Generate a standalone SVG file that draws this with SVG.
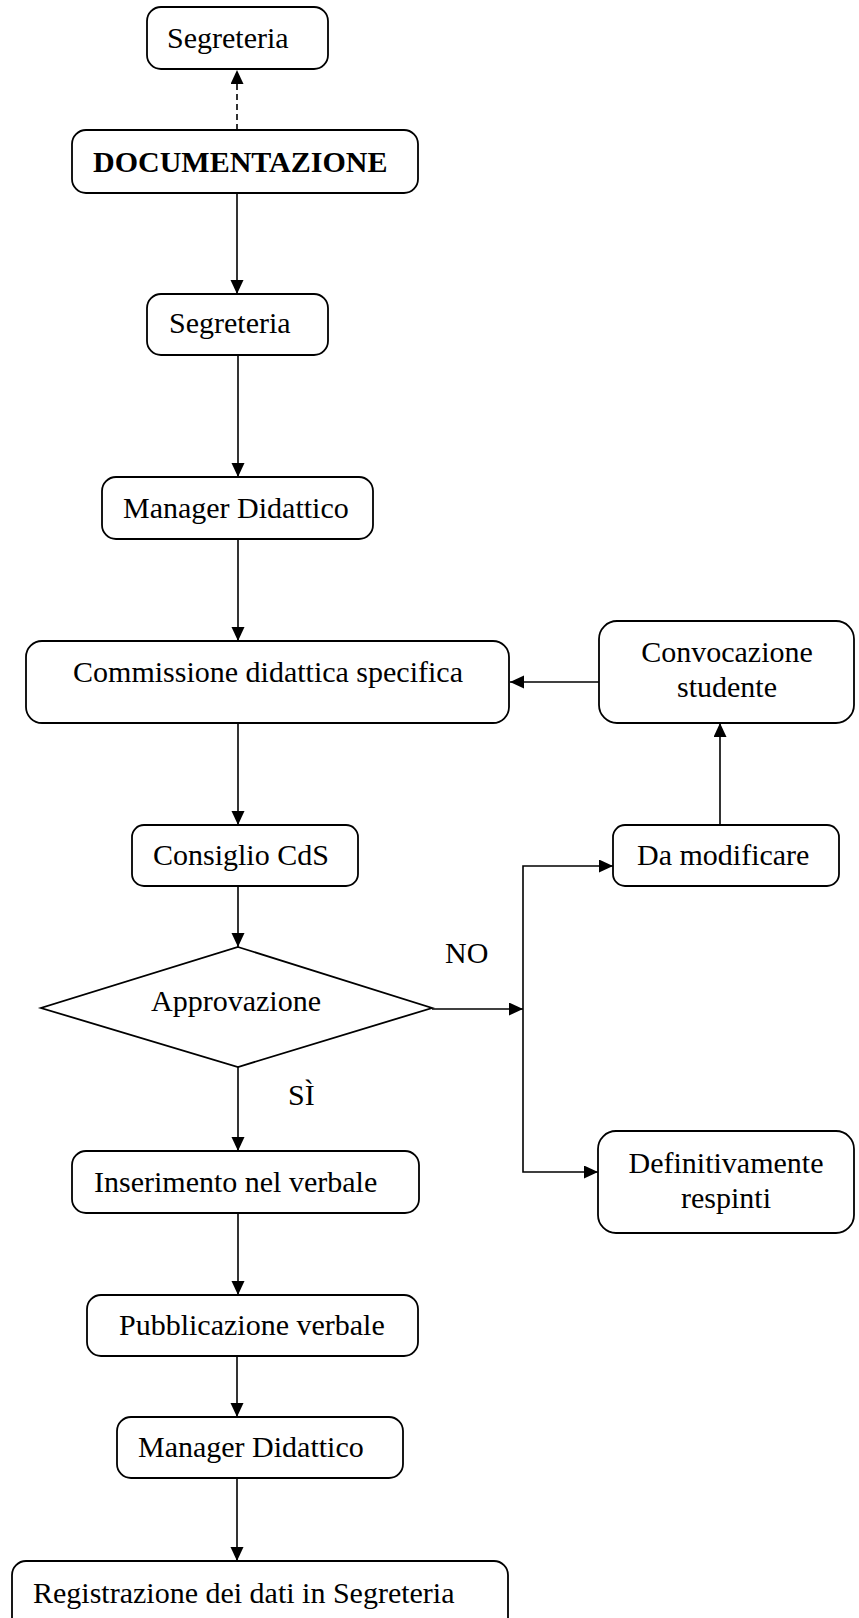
<svg xmlns="http://www.w3.org/2000/svg" width="859" height="1618" viewBox="0 0 859 1618">
  <style>
    .box { fill: #ffffff; stroke: #000000; stroke-width: 1.8; }
    .lbl { font-family: "Liberation Serif", "Times New Roman", serif; font-size: 30px; fill: #000000; }
    .ctr { text-anchor: middle; }
    .bold { font-weight: bold; }
    .link { fill: none; stroke: #000000; stroke-width: 1.6; }
    .dash { stroke-dasharray: 6 4; }
  </style>
  <defs>
    <marker id="arrow" markerUnits="userSpaceOnUse" markerWidth="15" markerHeight="14" refX="14" refY="6.5" orient="auto">
      <path d="M0,0 L14,6.5 L0,13 Z" fill="#000000"/>
    </marker>
  </defs>

  <rect width="859" height="1618" fill="#ffffff"/>

  <!-- connectors -->
  <g id="connectors">
    <path class="link dash" d="M237,130 V70" marker-end="url(#arrow)"/>
    <path class="link" d="M237,193 V294" marker-end="url(#arrow)"/>
    <path class="link" d="M238,355 V477" marker-end="url(#arrow)"/>
    <path class="link" d="M238,539 V641" marker-end="url(#arrow)"/>
    <path class="link" d="M599,682 H510" marker-end="url(#arrow)"/>
    <path class="link" d="M720,825 V723" marker-end="url(#arrow)"/>
    <path class="link" d="M238,723 V825" marker-end="url(#arrow)"/>
    <path class="link" d="M238,886 V947" marker-end="url(#arrow)"/>
    <path class="link" d="M432,1009 H523" marker-end="url(#arrow)"/>
    <path class="link" d="M523,1009 V866 H613" marker-end="url(#arrow)"/>
    <path class="link" d="M523,1009 V1172 H598" marker-end="url(#arrow)"/>
    <path class="link" d="M238,1067 V1151" marker-end="url(#arrow)"/>
    <path class="link" d="M238,1213 V1295" marker-end="url(#arrow)"/>
    <path class="link" d="M237,1356 V1417" marker-end="url(#arrow)"/>
    <path class="link" d="M237,1478 V1561" marker-end="url(#arrow)"/>
  </g>

  <!-- nodes -->
  <g id="segreteria-top">
    <rect class="box" x="147" y="7" width="181" height="62" rx="14"/>
    <text class="lbl" x="167" y="48">Segreteria</text>
  </g>
  <g id="documentazione">
    <rect class="box" x="72" y="130" width="346" height="63" rx="14"/>
    <text class="lbl bold" x="93" y="172">DOCUMENTAZIONE</text>
  </g>
  <g id="segreteria">
    <rect class="box" x="147" y="294" width="181" height="61" rx="14"/>
    <text class="lbl" x="169" y="333">Segreteria</text>
  </g>
  <g id="manager-didattico">
    <rect class="box" x="102" y="477" width="271" height="62" rx="14"/>
    <text class="lbl" x="123" y="518">Manager Didattico</text>
  </g>
  <g id="commissione">
    <rect class="box" x="26" y="641" width="483" height="82" rx="16"/>
    <text class="lbl ctr" x="268" y="682">Commissione didattica specifica</text>
  </g>
  <g id="convocazione">
    <rect class="box" x="599" y="621" width="255" height="102" rx="18"/>
    <text class="lbl ctr" x="727" y="662">Convocazione</text>
    <text class="lbl ctr" x="727" y="697">studente</text>
  </g>
  <g id="consiglio-cds">
    <rect class="box" x="132" y="825" width="226" height="61" rx="12"/>
    <text class="lbl" x="153" y="865">Consiglio CdS</text>
  </g>
  <g id="da-modificare">
    <rect class="box" x="613" y="825" width="226" height="61" rx="12"/>
    <text class="lbl" x="637" y="865">Da modificare</text>
  </g>
  <g id="approvazione">
    <polygon class="box" points="238,947 432,1008 238,1067 41,1008"/>
    <text class="lbl ctr" x="236" y="1011">Approvazione</text>
  </g>
  <g id="labels">
    <text class="lbl" x="445" y="963">NO</text>
    <text class="lbl" x="288" y="1105">SÌ</text>
  </g>
  <g id="inserimento">
    <rect class="box" x="72" y="1151" width="347" height="62" rx="14"/>
    <text class="lbl" x="94" y="1192">Inserimento nel verbale</text>
  </g>
  <g id="definitivamente-respinti">
    <rect class="box" x="598" y="1131" width="256" height="102" rx="18"/>
    <text class="lbl ctr" x="726" y="1173">Definitivamente</text>
    <text class="lbl ctr" x="726" y="1208">respinti</text>
  </g>
  <g id="pubblicazione">
    <rect class="box" x="87" y="1295" width="331" height="61" rx="14"/>
    <text class="lbl" x="119" y="1335">Pubblicazione verbale</text>
  </g>
  <g id="manager-didattico-2">
    <rect class="box" x="117" y="1417" width="286" height="61" rx="14"/>
    <text class="lbl" x="138" y="1457">Manager Didattico</text>
  </g>
  <g id="registrazione">
    <rect class="box" x="12" y="1561" width="496" height="72" rx="14"/>
    <text class="lbl" x="33" y="1603">Registrazione dei dati in Segreteria</text>
  </g>
</svg>
